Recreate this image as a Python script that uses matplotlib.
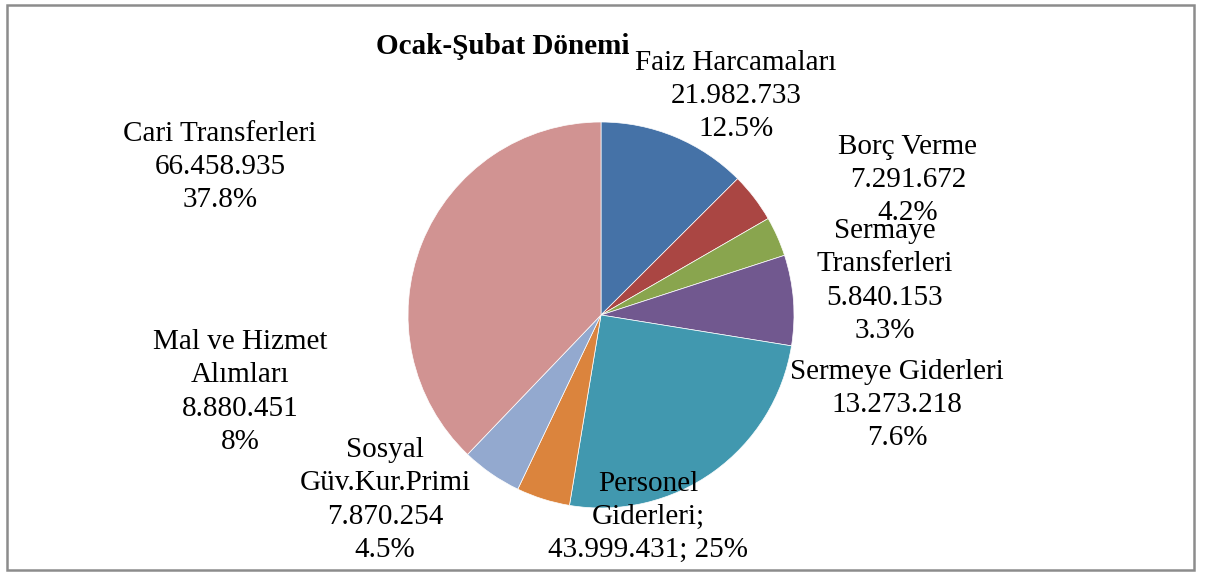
import matplotlib.pyplot as plt

names = ['Faiz Harcamaları', 'Borç Verme', 'Sermaye\nTransferleri', 'Sermeye Giderleri',
         'Personel\nGiderleri;', 'Sosyal\nGüv.Kur.Primi', 'Mal ve Hizmet\nAlımları', 'Cari Transferleri']
values = [21982733, 7291672, 5840153, 13273218, 43999431, 7870254, 8880451, 66458935]
pcts = ['12.5%', '4.2%', '3.3%', '7.6%', '25%', '4.5%', '8%', '37.8%']
colors = ['#4572A7', '#AA4643', '#89A54E', '#71588F', '#4198AF', '#DB843D', '#93A9CF', '#D19392']

# label centres in pixels (x, y from top)
label_pos = [(736, 96), (908, 180), (885, 281), (897, 405),
             (648, 517), (385, 500), (240, 392), (220, 167)]

W, H = 1206, 572
plt.rcParams['font.family'] = ['Liberation Serif', 'DejaVu Serif']

fig = plt.figure(figsize=(W / 100, H / 100), dpi=100)

cx, cy, r = 601, 315, 193
ax = fig.add_axes([(cx - r) / W, (H - cy - r) / H, 2 * r / W, 2 * r / H])
ax.pie(values, colors=colors, startangle=90, counterclock=False,
       wedgeprops=dict(edgecolor='white', linewidth=0.5))
ax.set_xlim(-1, 1)
ax.set_ylim(-1, 1)
ax.set_aspect('equal')

def fmt(v):
    return f'{v:,}'.replace(',', '.')

for name, v, p, (px, py) in zip(names, values, pcts, label_pos):
    if name.endswith(';'):
        txt = f'{name}\n{fmt(v)}; {p}'
    else:
        txt = f'{name}\n{fmt(v)}\n{p}'
    fig.text(px / W, 1 - py / H, txt, ha='center', va='center',
             fontsize=21, linespacing=1.36, multialignment='center')

fig.text(503 / W, 1 - 47 / H, 'Ocak-Şubat Dönemi', ha='center', va='center',
         fontsize=21, fontweight='bold')

frame = plt.Rectangle((7 / W, 2 / H), 1187 / W, 565 / H, transform=fig.transFigure,
                      fill=False, edgecolor='#8c8c8c', linewidth=1.8)
fig.patches.append(frame)

fig.savefig('out.png', dpi=100)
